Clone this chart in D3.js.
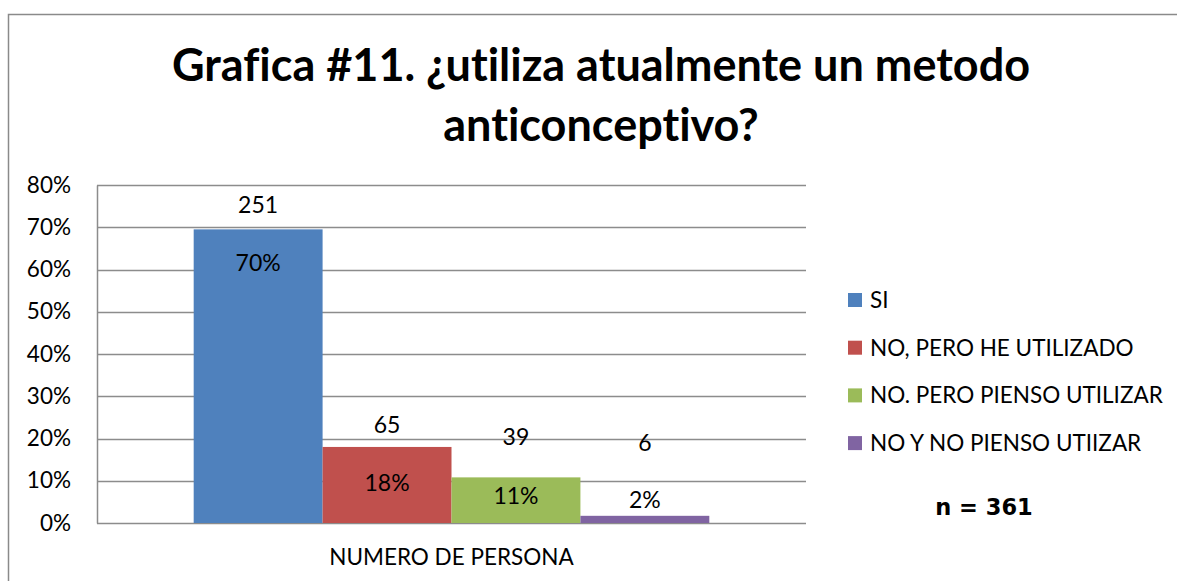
<!doctype html>
<html lang="en">
<head>
  <meta charset="utf-8">
  <title>Grafica 11</title>
  <script src="https://d3js.org/d3.v7.min.js"></script>
  <style>
    body { margin: 0; background: #fff; }
    text { font-family: Lato, "Open Sans", sans-serif; fill: #000; font-variant-ligatures: none; }
  </style>
</head>
<body>
<svg id="chart" width="1177" height="581"></svg>
<script>
    // data
    var category = "NUMERO DE PERSONA";
    var series = ["SI", "NO, PERO HE UTILIZADO", "NO. PERO PIENSO UTILIZAR", "NO Y NO PIENSO UTIIZAR"];
    var shares = [0.695, 0.180, 0.108, 0.017];
    var shareLabels = ["70%", "18%", "11%", "2%"];
    var counts = [251, 65, 39, 6];
    // where the labels sit, in axis units (they are hand placed in the original)
    var countLabelAt = [0.753, 0.232, 0.204, 0.189];
    var shareLabelAt = [0.615, 0.095, 0.064, 0.054];
    var yTicks = [0, 0.1, 0.2, 0.3, 0.4, 0.5, 0.6, 0.7, 0.8];
    var colors = ["#4f81bd", "#c0504d", "#9bbb59", "#8064a2"];
    var sampleSize = "n = 361";

    var svg = d3.select("#chart");

    // outer chart border
    svg.append("rect")
        .attr("x", 8.5).attr("y", 14.5)
        .attr("width", 1200).attr("height", 600)
        .attr("fill", "none").attr("stroke", "#8a8a8a").attr("stroke-width", 1.5);

    // title
    var title = svg.append("text")
        .attr("text-anchor", "middle")
        .style("font-weight", "bold")
        .style("font-size", "45px");
    title.append("tspan").attr("x", 601).attr("y", 81).text("Grafica #11. ¿utiliza atualmente un metodo");
    title.append("tspan").attr("x", 601).attr("y", 141).text("anticonceptivo?");

    var plotL = 97, plotR = 806, plotT = 185, plotB = 523;

    var y = d3.scaleLinear().domain([0, 0.8]).range([plotB, plotT]);
    var x = d3.scaleBand().domain(series).range([plotL, plotR]).paddingOuter(0.75).paddingInner(0);

    // gridlines
    svg.append("g").selectAll("line")
        .data(yTicks)
        .join("line")
        .attr("x1", plotL).attr("x2", plotR)
        .attr("y1", function(d) { return Math.round(y(d)) + 0.5; })
        .attr("y2", function(d) { return Math.round(y(d)) + 0.5; })
        .attr("stroke", "#8c8c8c").attr("stroke-width", 1.5);

    // y axis
    var yAxis = svg.append("g")
        .attr("transform", "translate(" + plotL + ",0)")
        .call(d3.axisLeft(y).tickValues(yTicks).tickFormat(d3.format(".0%")).tickSize(0).tickPadding(26));
    yAxis.select(".domain").attr("stroke", "#8c8c8c").attr("stroke-width", 1.5);
    yAxis.selectAll("text").style("font-size", "22.5px").style("font-family", "Lato, sans-serif").attr("fill", "#000");

    // bars
    svg.append("g").selectAll("rect")
        .data(series)
        .join("rect")
        .attr("x", function(d) { return x(d); })
        .attr("width", x.bandwidth())
        .attr("y", function(d, i) { return y(shares[i]); })
        .attr("height", function(d, i) { return plotB - y(shares[i]); })
        .attr("fill", function(d, i) { return colors[i]; });

    // count labels
    svg.append("g").selectAll("text")
        .data(series)
        .join("text")
        .attr("x", function(d) { return x(d) + x.bandwidth() / 2; })
        .attr("y", function(d, i) { return y(countLabelAt[i]); })
        .attr("dy", "0.35em")
        .attr("text-anchor", "middle")
        .style("font-size", "23px")
        .text(function(d, i) { return counts[i]; });

    // share labels
    svg.append("g").selectAll("text")
        .data(series)
        .join("text")
        .attr("x", function(d) { return x(d) + x.bandwidth() / 2; })
        .attr("y", function(d, i) { return y(shareLabelAt[i]); })
        .attr("dy", "0.35em")
        .attr("text-anchor", "middle")
        .style("font-size", "23px")
        .text(function(d, i) { return shareLabels[i]; });

    // category label
    svg.append("text")
        .attr("x", (plotL + plotR) / 2).attr("y", 557)
        .attr("dy", "0.35em")
        .attr("text-anchor", "middle")
        .style("font-size", "22.5px")
        .text(category);

    // legend
    var legend = svg.append("g").selectAll("g")
        .data(series)
        .join("g")
        .attr("transform", function(d, i) { return "translate(848," + (300 + i * 47.7) + ")"; });
    legend.append("rect")
        .attr("x", 0).attr("y", -7).attr("width", 14).attr("height", 14)
        .attr("fill", function(d, i) { return colors[i]; });
    legend.append("text")
        .attr("x", 22).attr("dy", "0.35em")
        .style("font-size", "22.5px")
        .text(function(d) { return d; });

    svg.append("text")
        .attr("x", 984).attr("y", 507)
        .attr("dy", "0.35em")
        .attr("text-anchor", "middle")
        .style("font-size", "22.5px")
        .style("font-weight", "bold")
        .style("font-family", "'DejaVu Sans', sans-serif")
        .text(sampleSize);
</script>
</body>
</html>
